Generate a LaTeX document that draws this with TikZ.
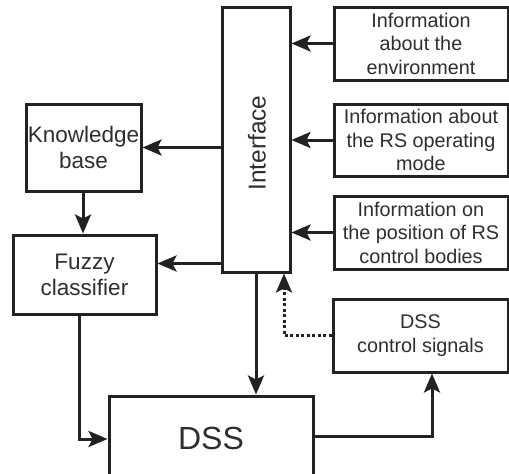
\documentclass[tikz,border=0pt]{standalone}
\usepackage{fontspec}
\setmainfont{Liberation Sans}
\usetikzlibrary{arrows.meta,calc}
\definecolor{ink}{HTML}{222222}
\definecolor{txt}{HTML}{2E2E2E}
\begin{document}
\begin{tikzpicture}[x=1pt,y=-1pt,
  box/.style={draw=ink, line width=3pt, text=txt, inner sep=0pt, align=center,
    font=\fontsize{19.8}{23.5}\selectfont},
  leftbox/.style={box, font=\fontsize{22.5}{26}\selectfont},
  link/.style={draw=ink, line width=3pt, -{Stealth[length=19pt,width=16pt,inset=4pt]}},
  dotlink/.style={link, dash pattern=on 3pt off 2.5pt}]
\useasboundingbox (0,0) rectangle (509,474);
\clip (0,0) rectangle (509,474);

% main blocks
\node[box, minimum width=68pt, minimum height=265pt] (iface) at (256,139.5) {};
\node[rotate=90, text=txt, font=\fontsize{24.4}{28}\selectfont] at (257,143) {Interface};
\node[leftbox, minimum width=115pt, minimum height=87pt] (kb) at (83.5,147.5) {Knowledge\\base};
\node[leftbox, minimum width=143pt, minimum height=79pt] (fc) at (84.5,274.5) {Fuzzy\\classifier};
\node[box, minimum width=204pt, minimum height=110pt] (dss) at (211,451) {};
\node[text=txt, font=\fontsize{32}{36}\selectfont] at (211,438) {DSS};

% information sources
\node[box, minimum width=174pt, minimum height=73pt] (env) at (421,43.5) {Information\\about the\\environment};
\node[box, minimum width=174pt, minimum height=72pt] (mode) at (421,140) {Information about\\the RS operating\\mode};
\node[box, minimum width=174pt, minimum height=73pt] (pos) at (421,232.5) {Information on\\the position of RS\\control bodies};
\node[box, minimum width=175pt, minimum height=73pt] (ctrl) at (420.5,335.5) {DSS\\control signals};

% connectors
\draw[link] (env.west) -- (env.west -| iface.east);
\draw[link] (mode.west) -- (mode.west -| iface.east);
\draw[link] (pos.west) -- (pos.west -| iface.east);
\draw[link] (kb.east -| iface.west) -- (kb.east);
\coordinate (ifc) at ($(iface.south west)+(0,-10)$);
\draw[link] (ifc) -- (ifc -| fc.east);
\draw[link] ($(kb.south)+(-0.5,0)$) -- ($(kb.south |- fc.north)+(-0.5,0)$);
\draw[link] (iface.south) -- (iface.south |- dss.north);
\coordinate (fcout) at ($(fc.south)+(-5.5,0)$);
\draw[link] (fcout) |- ($(dss.west)+(0,-12)$);
\coordinate (dssout) at ($(dss.east)+(0,-15)$);
\draw[link] (dssout) -| ($(ctrl.south)+(11.5,0)$);
\coordinate (fb) at ($(iface.south)+(28,0)$);
\draw[dotlink] (ctrl.west) -| (fb);
\end{tikzpicture}
\end{document}
